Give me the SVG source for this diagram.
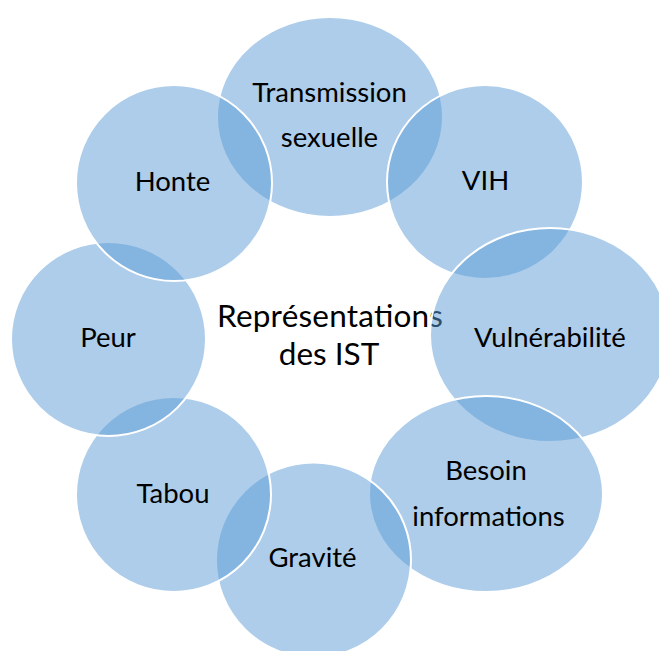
<svg xmlns="http://www.w3.org/2000/svg" width="659" height="651" viewBox="0 0 659 651">
<style>
.c{fill:#5b9bd5;fill-opacity:0.5;stroke:#ffffff;stroke-width:2}
.t{font-family:Lato,"Open Sans","Liberation Sans",sans-serif;font-size:27.5px;fill:#000;text-anchor:middle}
.ct{font-family:Lato,"Open Sans","Liberation Sans",sans-serif;font-size:31.5px;fill:#000;text-anchor:middle}
</style>
<rect width="659" height="651" fill="#ffffff"/>
<g id="center">
<text class="ct" x="330" y="327" textLength="226" lengthAdjust="spacing">Représentations</text>
<text class="ct" x="329" y="365">des IST</text>
</g>
<g id="transmission">
<ellipse class="c" cx="330" cy="117" rx="113" ry="100"/>
<text class="t" x="329.5" y="102">Transmission</text>
<text class="t" x="329.5" y="147">sexuelle</text>
</g>
<g id="vih">
<ellipse class="c" cx="485" cy="182" rx="98" ry="97"/>
<text class="t" x="485.5" y="190">VIH</text>
</g>
<g id="vulnerabilite">
<ellipse class="c" cx="550" cy="335" rx="120" ry="107"/>
<text class="t" x="550" y="347">Vulnérabilité</text>
</g>
<g id="besoin">
<ellipse class="c" cx="486" cy="494" rx="117" ry="98"/>
<text class="t" x="486" y="480">Besoin</text>
<text class="t" x="488.5" y="526">informations</text>
</g>
<g id="gravite">
<ellipse class="c" cx="313.5" cy="560" rx="97.5" ry="97.5"/>
<text class="t" x="312.5" y="567">Gravité</text>
</g>
<g id="tabou">
<ellipse class="c" cx="173.5" cy="494.5" rx="97.5" ry="97.5"/>
<text class="t" x="173" y="503">Tabou</text>
</g>
<g id="peur">
<ellipse class="c" cx="108.5" cy="339" rx="97.5" ry="97"/>
<text class="t" x="108" y="347">Peur</text>
</g>
<g id="honte">
<ellipse class="c" cx="174" cy="183" rx="98" ry="98"/>
<text class="t" x="172.5" y="191">Honte</text>
</g>
<g id="connectors"></g>
</svg>
